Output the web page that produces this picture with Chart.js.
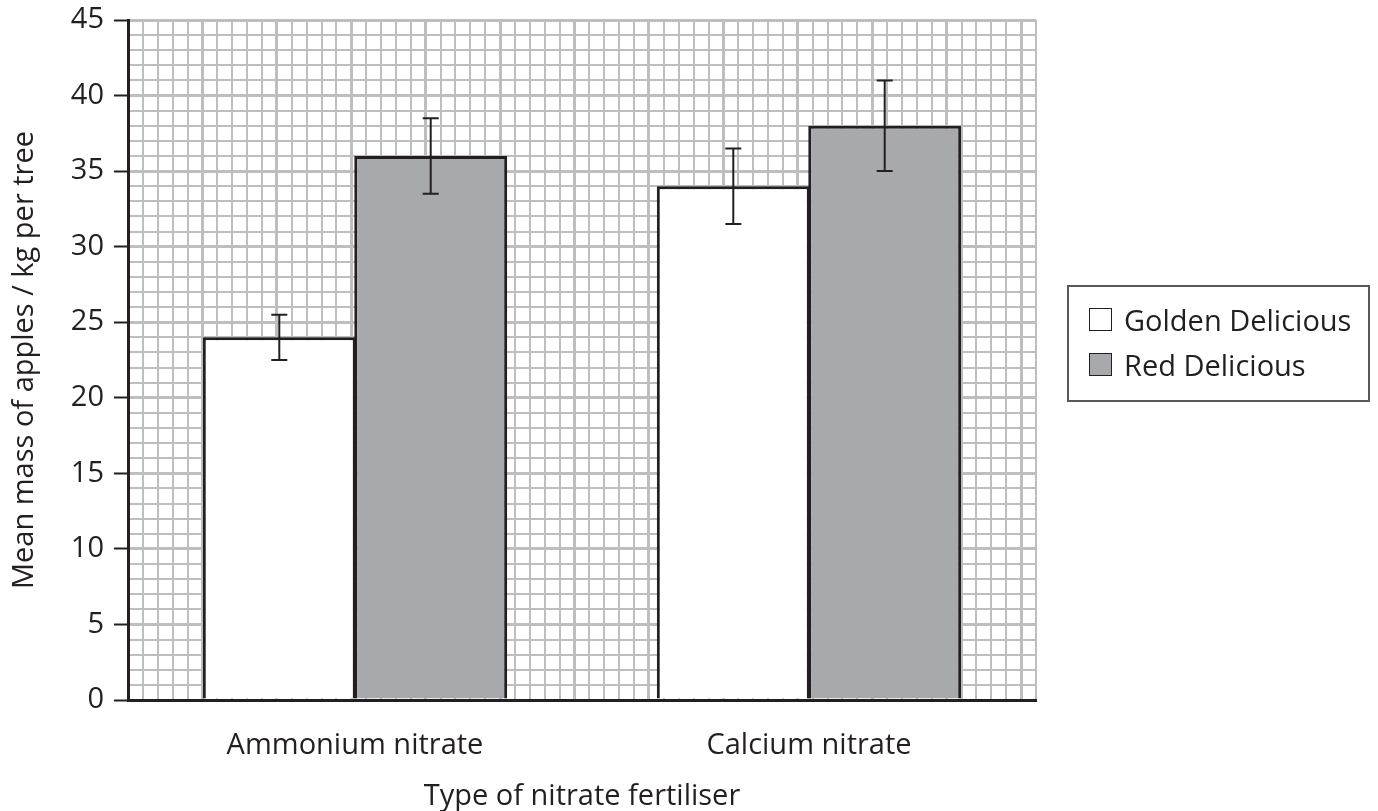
<!DOCTYPE html>
<html>
<head>
<meta charset="utf-8">
<script src="https://cdn.jsdelivr.net/npm/chart.js@4"></script>
<style>
  body { margin: 0; background: #fff; }
  #wrap { position: relative; width: 1378px; height: 811px; }
  #legend {
    position: absolute; left: 1067px; top: 285px; width: 299px; height: 113px;
    border: 2px solid #58595b; font-family: "Open Sans", sans-serif; font-size: 29px; color: #231f20;
  }
  .item { position: absolute; left: 20px; display: flex; align-items: center; }
  .sw { width: 21px; height: 21px; border: 1.5px solid #231f20; margin-right: 12px; }
</style>
</head>
<body>
<div id="wrap">
  <canvas id="grafica" width="1378" height="811"></canvas>
  <div id="legend"></div>
</div>
<script>
const categorias = ['Ammonium nitrate', 'Calcium nitrate'];
const golden = [24, 34];
const goldenErr = [1.5, 2.5];
const red = [36, 38];
const redErr = [2.5, 3];
const series = ['Golden Delicious', 'Red Delicious'];
const yTicks = [0, 5, 10, 15, 20, 25, 30, 35, 40, 45];

const fuente = { family: '"Open Sans", sans-serif', size: 29 };
const negro = '#231f20';
const rejilla = '#bcbec0';

const barrasError = {
  id: 'barrasError',
  afterDatasetsDraw(chart) {
    const ctx = chart.ctx;
    const y = chart.scales.y;
    const errores = [goldenErr, redErr];
    chart.data.datasets.forEach((ds, d) => {
      const meta = chart.getDatasetMeta(d);
      meta.data.forEach((bar, i) => {
        const v = ds.data[i];
        const top = y.getPixelForValue(v + errores[d][i]);
        const bot = y.getPixelForValue(v - errores[d][i]);
        ctx.save();
        ctx.strokeStyle = negro;
        ctx.lineWidth = 2;
        ctx.beginPath();
        ctx.moveTo(bar.x, top); ctx.lineTo(bar.x, bot);
        ctx.moveTo(bar.x - 8, top); ctx.lineTo(bar.x + 8, top);
        ctx.moveTo(bar.x - 8, bot); ctx.lineTo(bar.x + 8, bot);
        ctx.stroke();
        ctx.restore();
      });
    });
  }
};

new Chart(document.getElementById('grafica'), {
  type: 'bar',
  data: {
    labels: categorias,
    datasets: [
      { label: series[0], data: golden, backgroundColor: '#ffffff', borderColor: negro, borderWidth: 3, xAxisID: 'x' },
      { label: series[1], data: red, backgroundColor: '#a7a9ac', borderColor: negro, borderWidth: 3, xAxisID: 'x' }
    ]
  },
  options: {
    responsive: false,
    animation: false,
    layout: { padding: { top: 20, right: 342, left: 0, bottom: 0 } },
    categoryPercentage: 0.667,
    barPercentage: 1.01,
    plugins: { legend: { display: false }, tooltip: { enabled: false } },
    scales: {
      x: {
        position: 'bottom',
        z: 1,
        grid: { display: false },
        border: { display: true, color: negro, width: 3 },
        ticks: { color: negro, font: fuente, padding: 20 },
        title: { display: true, text: 'Type of nitrate fertiliser', color: negro, font: { ...fuente, lineHeight: 1 }, padding: { top: 0, bottom: 0 } },
        afterFit: s => { s.height = 111; s.paddingLeft = 0; s.paddingRight = 0; }
      },
      xg: {
        type: 'linear',
        position: 'bottom',
        min: 0, max: 60,
        grid: {
          color: rejilla,
          drawTicks: false,
          lineWidth: c => (c.tick && c.tick.value % 5 === 0) ? 3 : 2
        },
        border: { display: false },
        ticks: { display: false, stepSize: 1, autoSkip: false },
        afterFit: s => { s.height = 0; }
      },
      y: {
        min: 0, max: 45,
        grid: {
          color: rejilla,
          lineWidth: c => (c.tick && c.tick.value % 5 === 0) ? 3 : 2,
          tickLength: 14,
          tickWidth: 2,
          tickColor: c => (c.tick && c.tick.value % 5 === 0) ? negro : 'rgba(0,0,0,0)'
        },
        border: { display: true, color: negro, width: 3 },
        ticks: {
          stepSize: 1, autoSkip: false, color: negro, font: fuente, padding: 10,
          callback: v => yTicks.includes(v) ? v : ''
        },
        title: { display: true, text: 'Mean mass of apples / kg per tree', color: negro, font: fuente, padding: { top: 7, bottom: 0 } },
        afterFit: s => { s.width = 128; s.paddingTop = 0; s.paddingBottom = 0; }
      }
    }
  },
  plugins: [barrasError]
});

const leyenda = document.getElementById('legend');
const colores = ['#ffffff', '#a7a9ac'];
series.forEach((nombre, i) => {
  const item = document.createElement('div');
  item.className = 'item';
  item.style.top = (i === 0 ? 13 : 58) + 'px';
  item.innerHTML = '<span class="sw" style="background:' + colores[i] + '"></span><span>' + nombre + '</span>';
  leyenda.appendChild(item);
});
</script>
</body>
</html>
